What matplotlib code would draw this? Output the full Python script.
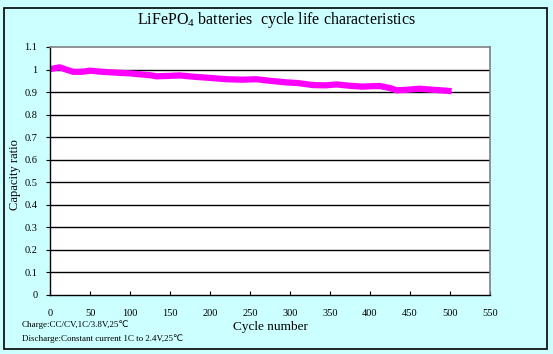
import matplotlib
matplotlib.use("Agg")
import matplotlib.pyplot as plt
from matplotlib.patches import Rectangle

cycles = [0, 5, 12, 20, 29, 40, 50, 65, 84, 100, 112, 125, 133, 150, 162, 180, 196, 210,
          221, 240, 258, 275, 296, 310, 329, 345, 358, 375, 391, 400, 412, 425, 433, 445,
          462, 480, 496, 502]
capacity = [1.002, 1.005, 1.01, 1.0, 0.99, 0.99, 0.995, 0.99, 0.986, 0.983, 0.979, 0.975,
            0.97, 0.972, 0.974, 0.968, 0.964, 0.96, 0.957, 0.955, 0.957, 0.95, 0.943, 0.94,
            0.931, 0.93, 0.934, 0.928, 0.924, 0.926, 0.927, 0.918, 0.908, 0.91, 0.915,
            0.91, 0.906, 0.904]

xticks = list(range(0, 551, 50))
yticks = [0, 0.1, 0.2, 0.3, 0.4, 0.5, 0.6, 0.7, 0.8, 0.9, 1, 1.1]
ytick_labels = ["0", "0.1", "0.2", "0.3", "0.4", "0.5", "0.6", "0.7", "0.8", "0.9", "1", "1.1"]

plt.rcParams["mathtext.fontset"] = "custom"
plt.rcParams["mathtext.rm"] = "Liberation Serif"
plt.rcParams["mathtext.it"] = "Liberation Serif:italic"
plt.rcParams["mathtext.bf"] = "Liberation Serif:bold"

serif = ["Liberation Serif", "DejaVu Serif"]
bg = "#CCFFFF"

fig = plt.figure(figsize=(5.53, 3.54), dpi=100, facecolor=bg)
fig.patches.append(Rectangle((4 / 553, 5 / 354), 543 / 553, 341 / 354, transform=fig.transFigure,
                             fill=False, edgecolor="black", linewidth=1.2))

ax = fig.add_axes([50 / 553, (354 - 295) / 354, 440 / 553, 248 / 354])
ax.set_facecolor("white")
ax.plot(cycles, capacity, color="#FF00FF", linewidth=4.5, solid_capstyle="butt")
ax.set_xlim(0, 550)
ax.set_ylim(0, 1.1)
ax.set_xticks(xticks)
ax.set_xticklabels([str(t) for t in xticks], fontsize=7.5, family=serif)
ax.set_yticks(yticks)
ax.set_yticklabels(ytick_labels, fontsize=7.5, family=serif)
for y in yticks[1:-1]:
    ax.axhline(y, color="black", linewidth=1.0, zorder=1)
ax.tick_params(axis="x", direction="in", length=3, pad=10, width=0.8)
ax.tick_params(axis="y", direction="out", length=3, pad=6, width=0.8)
for s in ["top", "right"]:
    ax.spines[s].set_color("#808080")
    ax.spines[s].set_linewidth(1.2)
for s in ["left", "bottom"]:
    ax.spines[s].set_color("black")
    ax.spines[s].set_linewidth(1.0)

fig.text(276 / 553, 1 - 20 / 354, "LiFePO$_4$ batteries  cycle life characteristics",
         ha="center", va="center", fontsize=11.5, family=serif)
fig.text(15 / 553, 1 - 175 / 354, "Capacity ratio", rotation=90, ha="center", va="center",
         fontsize=9, family=serif)
fig.text(270 / 553, 1 - 327 / 354, "Cycle number", ha="center", va="center",
         fontsize=9.5, family=serif)
fig.text(22 / 553, 1 - 325 / 354, "Charge:CC/CV,1C/3.8V,25\u2103", ha="left", va="center",
         fontsize=6.5, family=["Liberation Serif", "DejaVu Sans"])
fig.text(22 / 553, 1 - 339 / 354, "Discharge:Constant current 1C to 2.4V,25\u2103", ha="left",
         va="center", fontsize=6.5, family=["Liberation Serif", "DejaVu Sans"])

fig.savefig("out.png", dpi=100, facecolor=bg)
